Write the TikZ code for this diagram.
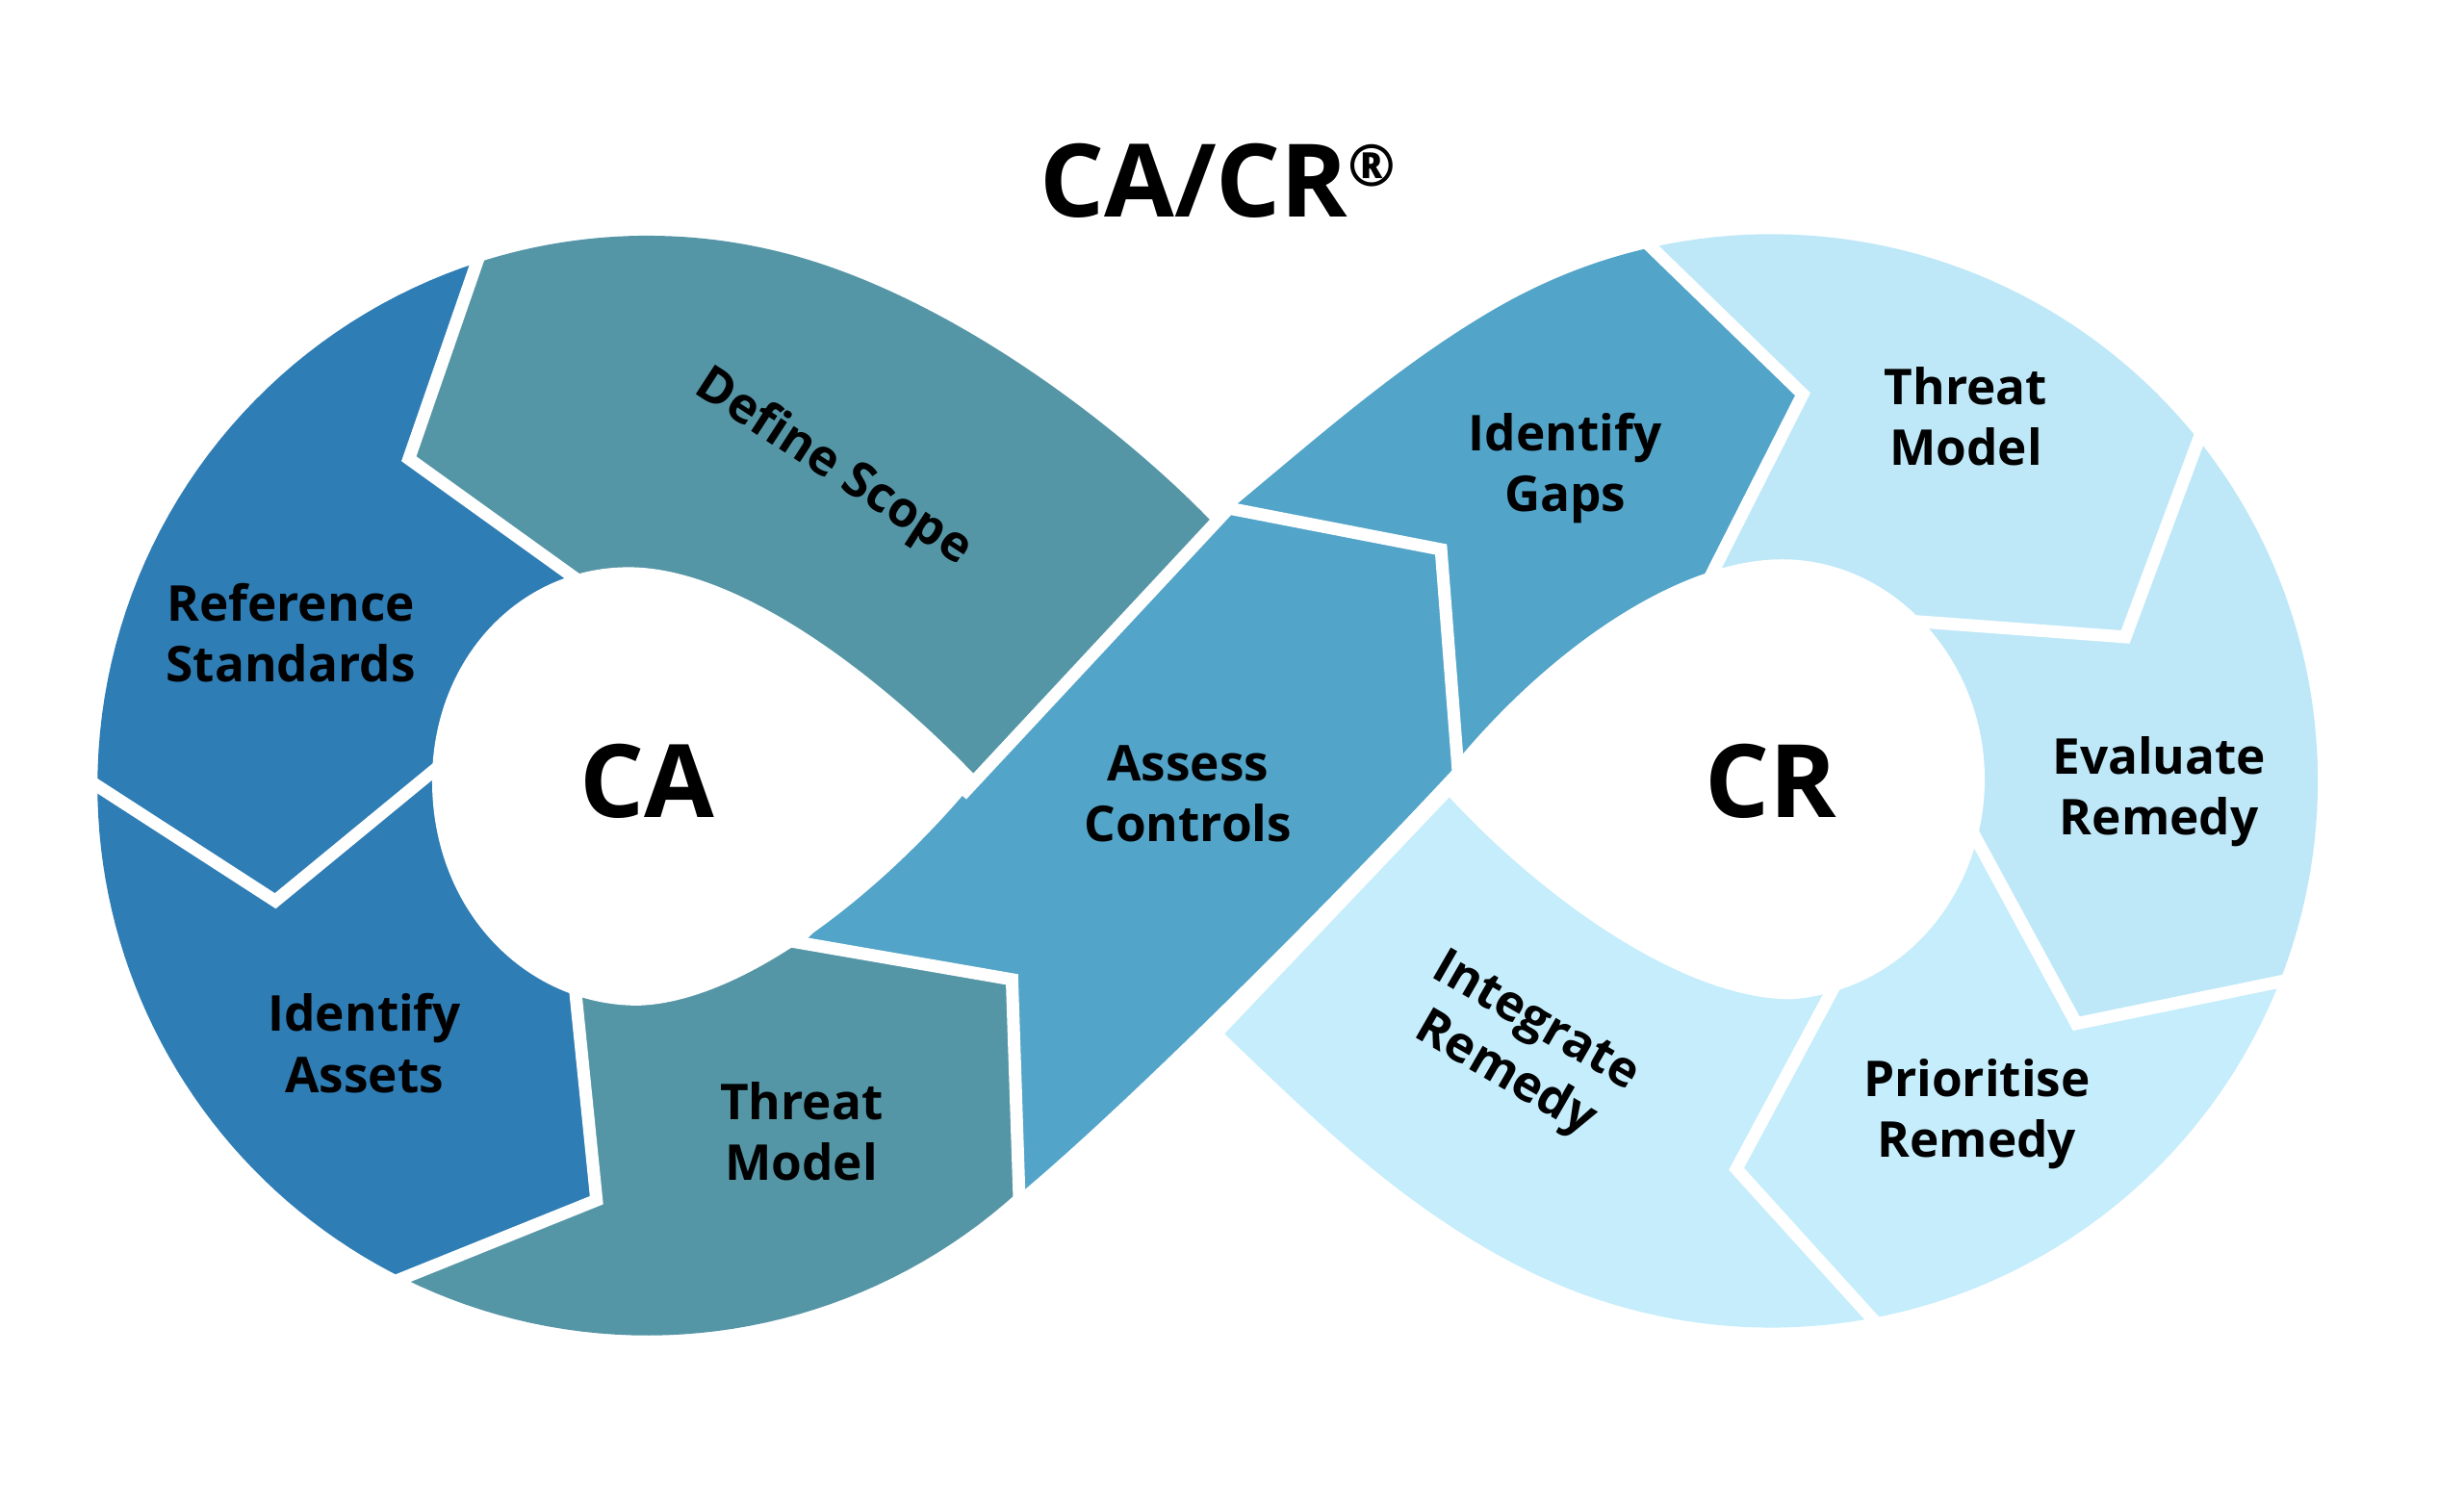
\documentclass[tikz,border=0pt]{standalone}
\usepackage{fontspec}
\setmainfont{Open Sans}
\definecolor{cdark}{HTML}{2E7DB5}
\definecolor{cteal}{HTML}{5596A6}
\definecolor{cmid}{HTML}{52A4C9}
\definecolor{clightA}{HTML}{BEE8F8}
\definecolor{clightB}{HTML}{C5EDFB}
\tikzset{
  sepline/.style={draw=white, line width=1.3mm, line join=miter, miter limit=10},
  holefill/.style={fill=white},
  lbl/.style={font=\bfseries\fontsize{14.6}{18}\selectfont, align=center, text=black, inner sep=0pt},
  biglbl/.style={font=\bfseries\fontsize{30}{36}\selectfont, text=black, inner sep=0pt},
}
\begin{document}
\begin{tikzpicture}[x=0.16327mm, y=-0.16327mm]
\path[use as bounding box, fill=white] (0,0) rectangle (1568,959);
% lobe circles: CA centre (412,500) r 350 ; CR centre (1127,497) r 348

% ---------- CA loop ----------
% Define Scope
\fill[cteal] plot[domain=-107.8:-75, samples=30] ({412+350*cos(\x)},{500+350*sin(\x)})
  .. controls (608.9,190.4) and (716.8,275.4) .. (772,333)
  -- (624.1,493.2) -- (450,480) -- (364.3,366.8) -- (260.2,292) -- cycle;
% Reference Standards
\fill[cdark] (305,166.7) -- (260.2,292) -- (364.3,366.8) -- (400,470) -- (274.2,492) -- (175.2,573.4)
  -- plot[domain=180:252.2, samples=40] ({412+350*cos(\x)},{500+350*sin(\x)}) -- cycle;
% Identify Assets
\fill[cdark] (175.2,573.4) -- (274.2,492) -- (400,520) -- (366.4,633.4) -- (379.6,763.9)
  -- plot[domain=116.2:180, samples=40] ({412+350*cos(\x)},{500+350*sin(\x)}) -- cycle;
% Threat Model (CA)
\fill[cteal] (379.6,763.9) -- (366.4,633.4) -- (440,580) -- (511,600.4) -- (644,623.4)
  -- plot[domain=47.7:116.2, samples=40] ({412+350*cos(\x)},{500+350*sin(\x)}) -- cycle;
% Assess Controls
\fill[cmid] (782,323.5) -- (917,349.7) -- (927.4,483.8) -- (926,488)
  .. controls (850,570) and (720,700) .. (651,758)
  -- (647.6,758.9) -- (644,623.4) -- (511,600.4) -- (580,530) -- (624.1,493.2) -- cycle;

% ---------- CR loop ----------
% Identify Gaps
\fill[cmid] (782,323.5) -- (787,321) .. controls (840.9,276.2) and (892.4,230.6) .. (953,195.6)
  -- plot[domain=-120:-102.5, samples=20] ({1127+348*cos(\x)},{497+348*sin(\x)})
  -- (1147.2,250.9) -- (1089.3,365.3) -- (1050,450) -- (927.4,483.8) -- (917,349.7) -- cycle;
% Threat Model (CR)
\fill[clightA] plot[domain=-102.5:-38.5, samples=40] ({1127+348*cos(\x)},{497+348*sin(\x)})
  -- (1352.5,405.4) -- (1222,395.7) -- (1150,450) -- (1089.3,365.3) -- (1147.2,250.9) -- cycle;
% Evaluate Remedy
\fill[clightA] plot[domain=-38.5:21.6, samples=40] ({1127+348*cos(\x)},{497+348*sin(\x)})
  -- (1321.3,651.5) -- (1258.4,535.4) -- (1180,480) -- (1222,395.7) -- (1352.5,405.4) -- cycle;
% Prioritise Remedy
\fill[clightB] plot[domain=21.6:79.3, samples=40] ({1127+348*cos(\x)},{497+348*sin(\x)})
  -- (1105,744) -- (1165,632) -- (1180,560) -- (1258.4,535.4) -- (1321.3,651.5) -- cycle;
% Integrate Remedy
\fill[clightB] (779.3,658) -- (922.4,507.4) -- (1080,560) -- (1165,632) -- (1105,744)
  -- plot[domain=79.3:115, samples=30] ({1127+348*cos(\x)},{497+348*sin(\x)})
  .. controls (898.4,774.3) and (836.9,713.2) .. (779.3,658) -- cycle;

% ---------- white separators ----------
\draw[sepline] (305.8,160.3) -- (260.2,292) -- (370.8,371.5);
\draw[sepline] (57,497) -- (175.2,573.4) -- (280.4,486.9);
\draw[sepline] (365.6,625.4) -- (379.6,763.9) -- (253,814.9);
\draw[sepline] (503.1,599) -- (644,623.4) -- (648.7,764.5);
\draw[sepline] (612,506) -- (782,323.5) -- (917,349.7) -- (927.4,483.8) -- (928,492);
\draw[sepline] (1048.2,154.8) -- (1147.2,250.9) -- (1085.7,372.4);
\draw[sepline] (1214,395.1) -- (1352.5,405.4) -- (1400.7,275.6);
\draw[sepline] (1254.6,528.4) -- (1321.3,651.5) -- (1454.7,624);
\draw[sepline] (1168.8,625) -- (1105,744) -- (1195.4,843.7);

% ---------- holes ----------
\fill[holefill] (622,495) .. controls (560,430) and (470,361) .. (400,361)
  .. controls (330,361) and (275,420) .. (275,497)
  .. controls (275,580) and (335,640) .. (406,640)
  .. controls (475,638) and (565,565) .. (622,495) -- cycle;
\fill[holefill] (930,481) .. controls (990,410) and (1070,356) .. (1134,356)
  .. controls (1205,356) and (1263,420) .. (1263,496)
  .. controls (1263,565) and (1215,630) .. (1140,636)
  .. controls (1070,636) and (980,570) .. (922,507) -- cycle;

% ---------- labels ----------
\node[anchor=base, font=\bfseries\fontsize{30}{36}\selectfont, inner sep=0pt] (title) at (775,138) {CA/CR\raisebox{9pt}{\fontsize{17}{17}\selectfont ®}};
\node[biglbl] (ca) at (412,497) {CA};
\node[biglbl] (cr) at (1127,497) {CR};
\node[lbl, rotate=-33] (scope) at (530,298) {Define Scope};
\node[lbl] (refstd) at (185,403) {Reference\\Standards};
\node[lbl] (assets) at (232,664) {Identify\\Assets};
\node[lbl] (threatca) at (510,720) {Threat\\Model};
\node[lbl] (assess) at (756,505) {Assess\\Controls};
\node[lbl] (gaps) at (996,298) {Identify\\Gaps};
\node[lbl] (threatcr) at (1251,265) {Threat\\Model};
\node[lbl] (evalrem) at (1374,504) {Evaluate\\Remedy};
\node[lbl] (priorem) at (1258,709) {Prioritise\\Remedy};
\node[lbl, rotate=-30] (integ) at (967,668) {Integrate\\Remedy};
\end{tikzpicture}
\end{document}
